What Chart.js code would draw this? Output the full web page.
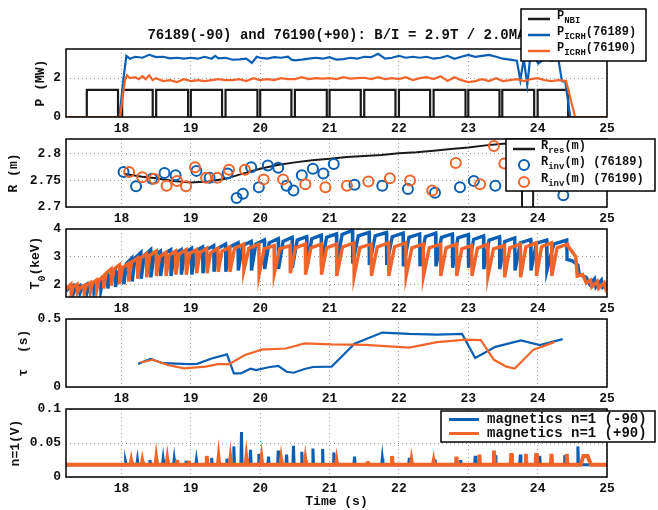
<!DOCTYPE html>
<html>
<head>
<meta charset="utf-8">
<script src="https://cdn.jsdelivr.net/npm/chart.js@4"></script>
<style>
  body { margin: 0; background: #fff; }
  #wrap { position: relative; width: 658px; height: 510px; overflow: hidden; }
  #wrap canvas { position: absolute; left: 0; }
</style>
</head>
<body>
<div id="wrap">
  <canvas id="c1" width="658" height="137" style="top:0px"></canvas>
  <canvas id="c2" width="658" height="102" style="top:125px"></canvas>
  <canvas id="c3" width="658" height="102" style="top:215px"></canvas>
  <canvas id="c4" width="658" height="102" style="top:305px"></canvas>
  <canvas id="c5" width="658" height="115" style="top:395px"></canvas>
</div>
<script>
// ---- data ----
const xTicks = [18, 19, 20, 21, 22, 23, 24, 25];

// panel 1: heating power (MW)
const nbiOn  = [17.50, 18.01, 18.50, 19.00, 19.50, 20.00, 20.50, 21.00, 21.50, 22.00, 22.50, 23.00, 23.49, 24.00];
const nbiOff = [17.95, 18.45, 18.96, 19.45, 19.96, 20.45, 20.96, 21.45, 21.95, 22.45, 22.96, 23.45, 23.95, 24.44];
const nbiLevel = 1.4;
const icrhT189 = [17.2, 17.97, 18.03, 18.07, 18.12, 18.2, 18.3, 18.4, 18.5, 18.6, 18.7, 18.8, 18.9, 19.0, 19.1, 19.2, 19.3, 19.35, 19.4, 19.5, 19.6, 19.7, 19.8, 19.88, 19.95, 20.0, 20.1, 20.2, 20.3, 20.4, 20.45, 20.5, 20.6, 20.7, 20.8, 20.9, 21.0, 21.1, 21.2, 21.3, 21.4, 21.5, 21.6, 21.7, 21.8, 21.9, 22.0, 22.1, 22.2, 22.3, 22.4, 22.5, 22.6, 22.7, 22.8, 22.9, 23.0, 23.1, 23.2, 23.3, 23.4, 23.5, 23.6, 23.7, 23.75, 23.8, 23.85, 23.89, 23.95, 24.01, 24.1, 24.2, 24.3, 24.35, 24.4, 24.47, 25.0];
const icrhP189 = [0, 0, 2.0, 3.15, 3.0, 3.1, 3.05, 3.2, 3.08, 3.1, 3.02, 3.05, 3.0, 3.05, 3.0, 3.1, 3.0, 3.15, 3.02, 3.05, 2.95, 2.97, 3.0, 2.78, 3.1, 3.05, 3.0, 3.08, 3.05, 3.1, 2.95, 2.92, 2.95, 3.0, 3.05, 3.0, 3.08, 2.95, 2.98, 3.05, 3.0, 3.1, 3.08, 3.25, 3.0, 3.05, 3.15, 3.05, 3.1, 3.05, 3.1, 3.0, 3.05, 3.15, 3.0, 3.1, 3.2, 3.1, 3.15, 3.2, 3.1, 3.0, 2.95, 2.9, 1.9, 3.0, 1.65, 2.95, 3.1, 2.75, 3.0, 2.9, 2.95, 1.85, 1.8, 0, 0];
const icrhT190 = [17.2, 17.98, 18.05, 18.08, 18.12, 18.2, 18.25, 18.3, 18.35, 18.4, 18.45, 18.5, 18.6, 18.7, 18.8, 18.9, 19.0, 19.1, 19.2, 19.3, 19.4, 19.5, 19.6, 19.7, 19.8, 19.9, 20.0, 20.1, 20.2, 20.3, 20.4, 20.5, 20.6, 20.7, 20.8, 20.9, 21.0, 21.1, 21.2, 21.3, 21.4, 21.5, 21.6, 21.7, 21.8, 21.9, 22.0, 22.1, 22.2, 22.3, 22.4, 22.5, 22.6, 22.7, 22.8, 22.9, 23.0, 23.1, 23.2, 23.3, 23.4, 23.5, 23.6, 23.7, 23.8, 23.9, 24.0, 24.1, 24.2, 24.3, 24.41, 24.54, 25.0];
const icrhP190 = [0, 0, 1.9, 2.15, 2.0, 2.05, 1.95, 2.1, 1.95, 2.15, 1.9, 2.0, 1.85, 1.9, 1.8, 1.95, 1.85, 1.9, 1.85, 1.9, 1.95, 1.9, 1.9, 1.95, 1.85, 2.0, 1.9, 1.95, 1.9, 2.0, 1.95, 1.95, 2.05, 1.95, 2.0, 1.98, 2.0, 1.95, 2.05, 1.98, 2.0, 2.02, 1.95, 2.05, 1.95, 2.0, 1.95, 2.05, 1.9, 2.0, 2.05, 1.95, 2.1, 1.85, 2.05, 1.9, 1.8, 1.85, 1.95, 1.85, 2.0, 1.85, 1.9, 1.95, 1.85, 1.95, 2.0, 1.9, 1.85, 1.9, 1.85, 0, 0];

// panel 2: resonance and inversion radius (m)
const rresT = [18.05, 18.3, 18.5, 18.75, 19.0, 19.25, 19.5, 19.7, 20.0, 20.25, 20.5, 20.75, 21.0, 21.25, 21.5, 21.75, 22.0, 22.25, 22.5, 22.75, 23.0, 23.25, 23.5, 23.77, 23.78, 23.93, 23.94, 24.2, 24.45];
const rresV = [2.762, 2.757, 2.754, 2.749, 2.746, 2.748, 2.753, 2.761, 2.772, 2.779, 2.784, 2.788, 2.791, 2.794, 2.796, 2.798, 2.801, 2.803, 2.806, 2.809, 2.812, 2.816, 2.819, 2.821, 2.6, 2.6, 2.822, 2.824, 2.825];
const rinvT189 = [18.03, 18.21, 18.44, 18.62, 18.78, 19.08, 19.27, 19.53, 19.66, 19.75, 19.87, 19.98, 20.11, 20.26, 20.38, 20.48, 20.6, 20.76, 20.91, 21.06, 21.36, 21.76, 22.13, 22.52, 22.88, 23.08, 23.39, 24.37];
const rinvV189 = [2.766, 2.739, 2.753, 2.764, 2.76, 2.768, 2.755, 2.763, 2.717, 2.725, 2.775, 2.737, 2.778, 2.774, 2.74, 2.731, 2.76, 2.772, 2.763, 2.781, 2.742, 2.74, 2.734, 2.727, 2.737, 2.749, 2.74, 2.722];
const rinvT190 = [18.11, 18.3, 18.47, 18.65, 18.8, 18.93, 19.06, 19.22, 19.38, 19.55, 19.78, 20.05, 20.33, 20.65, 20.94, 21.25, 21.56, 21.87, 22.16, 22.48, 22.82, 23.17, 23.37, 23.52];
const rinvV190 = [2.766, 2.756, 2.753, 2.74, 2.749, 2.739, 2.775, 2.755, 2.755, 2.77, 2.77, 2.752, 2.752, 2.743, 2.737, 2.74, 2.748, 2.754, 2.75, 2.731, 2.783, 2.743, 2.815, 2.782];

// panel 3: central temperature (keV), one entry per sawtooth crash
const t0Crash189 = [17.30, 17.40, 17.50, 17.60, 17.70, 17.80, 17.91, 18.03, 18.15, 18.28, 18.42, 18.56, 18.71, 18.86, 19.01, 19.17, 19.33, 19.50, 19.68, 19.87, 20.06, 20.26, 20.46, 20.67, 20.88, 21.10, 21.33, 21.57, 21.82, 22.06, 22.30, 22.53, 22.77, 23.00, 23.22, 23.45, 23.67, 23.90, 24.13, 24.42];
const t0Knee189  = [1.85, 1.85, 1.9, 1.95, 2.05, 2.15, 2.3, 2.45, 2.75, 2.95, 3.05, 3.05, 3.1, 3.1, 3.15, 3.2, 3.25, 3.3, 3.35, 3.4, 3.45, 3.5, 3.55, 3.6, 3.65, 3.7, 3.8, 3.75, 3.75, 3.72, 3.7, 3.72, 3.7, 3.68, 3.62, 3.6, 3.55, 3.5, 3.48, 3.45];
const t0Peak189  = [1.95, 1.95, 2.0, 2.05, 2.15, 2.3, 2.45, 2.6, 2.95, 3.15, 3.25, 3.2, 3.25, 3.25, 3.3, 3.35, 3.4, 3.45, 3.5, 3.55, 3.6, 3.65, 3.7, 3.72, 3.78, 3.82, 3.95, 3.88, 3.87, 3.85, 3.82, 3.85, 3.82, 3.8, 3.75, 3.72, 3.68, 3.62, 3.6, 3.6];
const t0Drop189  = [1.65, 1.7, 1.7, 1.75, 1.8, 1.85, 1.9, 2.0, 2.1, 2.2, 2.25, 2.3, 2.3, 2.35, 2.35, 2.4, 2.45, 2.45, 2.5, 2.5, 2.55, 2.55, 2.6, 2.6, 2.65, 2.7, 2.75, 2.7, 2.7, 2.65, 2.65, 2.65, 2.6, 2.6, 2.55, 2.55, 2.5, 2.5, 2.5, 2.9];
const t0Tail189  = [[24.5, 2.85], [24.58, 2.7], [24.6, 2.35], [24.7, 2.25], [24.75, 2.0], [24.82, 2.2], [24.84, 1.9], [24.92, 2.15], [24.94, 1.9], [25.0, 2.05]];
const t0Crash190 = [17.27, 17.36, 17.46, 17.55, 17.64, 17.74, 17.85, 17.97, 18.10, 18.23, 18.36, 18.50, 18.64, 18.78, 18.93, 19.08, 19.23, 19.39, 19.56, 19.76, 19.98, 20.20, 20.43, 20.65, 20.88, 21.10, 21.35, 21.60, 21.85, 22.10, 22.35, 22.60, 22.83, 23.05, 23.28, 23.52, 23.75, 23.98, 24.20, 24.43];
const t0Knee190  = [1.9, 1.9, 1.85, 1.95, 2.05, 2.15, 2.4, 2.55, 2.6, 2.8, 2.95, 3.05, 3.0, 3.05, 3.1, 3.1, 3.15, 3.15, 3.2, 3.3, 3.3, 3.28, 3.28, 3.32, 3.32, 3.32, 3.35, 3.33, 3.35, 3.36, 3.32, 3.32, 3.32, 3.28, 3.3, 3.28, 3.32, 3.35, 3.36, 3.32];
const t0Peak190  = [2.0, 2.0, 1.95, 2.05, 2.15, 2.3, 2.55, 2.7, 2.75, 2.95, 3.1, 3.2, 3.15, 3.2, 3.25, 3.25, 3.3, 3.3, 3.35, 3.45, 3.45, 3.4, 3.4, 3.45, 3.45, 3.45, 3.5, 3.45, 3.5, 3.5, 3.45, 3.45, 3.45, 3.4, 3.45, 3.4, 3.45, 3.5, 3.5, 3.45];
const t0Drop190  = [1.65, 1.7, 1.7, 1.75, 1.8, 1.85, 1.95, 2.0, 2.1, 2.2, 2.25, 2.3, 2.3, 2.35, 2.35, 2.4, 2.4, 2.45, 2.45, 2.5, 2.35, 2.4, 2.4, 2.35, 2.35, 2.3, 2.3, 2.3, 2.3, 2.3, 2.3, 2.3, 2.3, 2.3, 2.3, 2.25, 2.25, 2.3, 2.3, 3.4];
const t0Tail190  = [[24.55, 3.0], [24.57, 2.3], [24.65, 2.35], [24.7, 2.05], [24.76, 2.15], [24.78, 1.9], [24.86, 2.1], [24.88, 1.85], [24.96, 2.05], [24.98, 1.85], [25.0, 1.95]];

// panel 4: sawtooth period (s)
const tauT189 = [18.24, 18.42, 18.6, 18.97, 19.09, 19.3, 19.52, 19.62, 19.72, 19.86, 19.94, 20.12, 20.26, 20.38, 20.48, 20.64, 20.76, 21.03, 21.36, 21.76, 22.15, 22.55, 22.91, 23.1, 23.39, 23.76, 24.03, 24.36];
const tauV189 = [0.17, 0.207, 0.175, 0.168, 0.17, 0.21, 0.24, 0.1, 0.1, 0.135, 0.125, 0.145, 0.155, 0.112, 0.105, 0.132, 0.147, 0.15, 0.318, 0.4, 0.39, 0.385, 0.39, 0.213, 0.295, 0.342, 0.308, 0.352];
const tauT190 = [18.27, 18.45, 18.67, 18.9, 19.21, 19.39, 19.55, 19.78, 20.02, 20.37, 20.64, 21.03, 21.52, 22.15, 22.55, 22.97, 23.18, 23.37, 23.55, 23.67, 23.94, 24.24];
const tauV190 = [0.18, 0.2, 0.162, 0.137, 0.15, 0.168, 0.168, 0.235, 0.275, 0.283, 0.32, 0.313, 0.31, 0.29, 0.33, 0.348, 0.345, 0.2, 0.15, 0.135, 0.275, 0.33];

// panel 5: n=1 magnetics (V)
const magBase = 0.018;
const magSpikeT189 = [18.06, 18.23, 18.41, 18.6, 18.76, 18.93, 19.08, 19.3, 19.52, 19.62, 19.73, 19.86, 19.98, 20.12, 20.26, 20.38, 20.48, 20.6, 20.76, 20.9, 21.06, 21.36, 21.76, 22.15, 22.52, 22.89, 23.1, 23.39, 23.75, 24.03, 24.39, 24.58];
const magSpikeV189 = [0.022, 0.025, 0.025, 0.026, 0.026, 0.024, 0.025, 0.028, 0.027, 0.045, 0.066, 0.04, 0.034, 0.03, 0.039, 0.033, 0.046, 0.037, 0.042, 0.041, 0.036, 0.03, 0.027, 0.028, 0.026, 0.025, 0.031, 0.032, 0.033, 0.031, 0.032, 0.045];
const magSpikeT190 = [18.14, 18.3, 18.5, 18.66, 18.8, 18.97, 19.23, 19.4, 19.57, 19.8, 20.02, 20.3, 20.65, 21.1, 21.55, 21.9, 22.18, 22.5, 22.83, 23.16, 23.37, 23.62, 23.83, 23.98, 24.2, 24.42];
const magSpikeV190 = [0.023, 0.023, 0.026, 0.025, 0.025, 0.024, 0.031, 0.027, 0.026, 0.027, 0.026, 0.025, 0.025, 0.024, 0.023, 0.031, 0.024, 0.023, 0.03, 0.033, 0.039, 0.035, 0.034, 0.035, 0.034, 0.034];
const magBump190 = [[24.62, 0.018], [24.66, 0.031], [24.72, 0.031], [24.77, 0.018]];

// ---- styling ----
const BLUE = '#0a5fb4';
const ORANGE = '#f2652a';
const BLACK = '#1a1a1a';
const MONO = '"Liberation Mono", "DejaVu Sans Mono", monospace';
const GRID = '#9a9a9a';

function zip(ts, vs) { return ts.map((t, i) => ({x: t, y: vs[i]})); }

// each tooth: knee shortly after the previous crash, then peak, then the crash
function sawPoints(startY, crash, knee, peak, drop, tail) {
  const pts = [{x: 17.2, y: startY}];
  let prev = 17.2;
  crash.forEach((t, i) => {
    pts.push({x: prev + 0.35 * (t - prev), y: knee[i]});
    pts.push({x: t, y: peak[i]});
    pts.push({x: t + 0.004, y: drop[i]});
    prev = t;
  });
  tail.forEach(p => pts.push({x: p[0], y: p[1]}));
  return pts;
}

function spikePoints(base, ts, vs, extra) {
  let pts = [{x: 17.2, y: base}, {x: 25, y: base}];
  ts.forEach((t, i) => {
    pts.push({x: t - 0.009, y: base}, {x: t, y: vs[i]}, {x: t + 0.009, y: base});
  });
  (extra || []).forEach(p => pts.push({x: p[0], y: p[1]}));
  return pts.sort((a, b) => a.x - b.x);
}

const nbiPts = [{x: 17.2, y: 0}];
nbiOn.forEach((t, i) => {
  nbiPts.push({x: t, y: 0}, {x: t, y: nbiLevel}, {x: nbiOff[i], y: nbiLevel}, {x: nbiOff[i], y: 0});
});
nbiPts.push({x: 25, y: 0});

// draws a string made of [text, isSubscript] parts
function drawRich(ctx, parts, x, y, size, subSize, align) {
  let w = 0;
  const ws = parts.map(p => {
    ctx.font = 'bold ' + (p[1] ? subSize : size) + 'px ' + MONO;
    const m = ctx.measureText(p[0]).width;
    w += m;
    return m;
  });
  let cx = align === 'center' ? x - w / 2 : x;
  ctx.textBaseline = 'middle';
  ctx.textAlign = 'left';
  parts.forEach((p, i) => {
    ctx.font = 'bold ' + (p[1] ? subSize : size) + 'px ' + MONO;
    ctx.fillText(p[0], cx, p[1] ? y + Math.round(size * 0.45) : y);
    cx += ws[i];
  });
}

const decorPlugin = {
  id: 'decor',
  afterDatasetsDraw(chart) {
    const {ctx, chartArea: a} = chart;
    ctx.save();
    ctx.strokeStyle = '#000';
    ctx.lineWidth = 1.5;
    ctx.strokeRect(a.left, a.top, a.right - a.left, a.bottom - a.top);
    ctx.restore();
  },
  afterDraw(chart, args, o) {
    const {ctx, chartArea: a} = chart;
    const off = o.top || 0;
    ctx.save();
    ctx.fillStyle = '#111';
    if (o.title) {
      drawRich(ctx, [[o.title.text, 0]], o.title.x, o.title.y - off, 14, 10, 'center');
    }
    if (o.yTitle) {
      ctx.save();
      ctx.translate(o.yTitle.x, (a.top + a.bottom) / 2);
      ctx.rotate(-Math.PI / 2);
      drawRich(ctx, o.yTitle.parts, 0, 0, 13, 10, 'center');
      ctx.restore();
    }
    if (o.legend) {
      const L = o.legend;
      ctx.fillStyle = '#fff';
      ctx.fillRect(L.box[0], L.box[1] - off, L.box[2] - L.box[0], L.box[3] - L.box[1]);
      ctx.strokeStyle = '#000';
      ctx.lineWidth = 1.5;
      ctx.strokeRect(L.box[0], L.box[1] - off, L.box[2] - L.box[0], L.box[3] - L.box[1]);
      L.items.forEach((it, i) => {
        const y = L.rows[i] - off;
        ctx.strokeStyle = it.color;
        if (it.marker) {
          ctx.lineWidth = 2;
          ctx.beginPath();
          ctx.arc((L.sample[0] + L.sample[1]) / 2, y, 5, 0, Math.PI * 2);
          ctx.stroke();
        } else {
          ctx.lineWidth = it.width || 2.5;
          ctx.beginPath();
          ctx.moveTo(L.sample[0], y);
          ctx.lineTo(L.sample[1], y);
          ctx.stroke();
        }
        ctx.fillStyle = '#111';
        const hasSub = it.parts.some(p => p[1]);
        drawRich(ctx, it.parts, L.textX, hasSub ? y - 3 : y, L.size, L.subSize, 'left');
      });
    }
    ctx.restore();
  }
};

function makePanel(id, top, plotTop, xAxisH, y, datasets, decor, xTitle) {
  const tickFont = {family: MONO, size: 13, weight: 'bold'};
  decor.top = top;
  return new Chart(document.getElementById(id), {
    type: 'line',
    data: {datasets: datasets},
    options: {
      responsive: false,
      animation: false,
      events: [],
      layout: {padding: {left: 0, right: 51, top: plotTop - top, bottom: 0}},
      elements: {line: {tension: 0}, point: {radius: 0}},
      scales: {
        x: {
          type: 'linear', min: 17.2, max: 25,
          afterBuildTicks: ax => { ax.ticks = xTicks.map(v => ({value: v})); },
          afterFit: ax => { ax.height = xAxisH; },
          grid: {color: GRID, lineWidth: 1, drawTicks: false},
          border: {display: false, dash: [1, 3]},
          ticks: {font: tickFont, color: '#111', padding: 4, maxRotation: 0, autoSkip: false},
          title: xTitle ? {display: true, text: xTitle, font: {family: MONO, size: 13, weight: 'bold'}, color: '#111', padding: {top: 0, bottom: 0}} : {display: false}
        },
        y: {
          type: 'linear', min: y.min, max: y.max,
          afterBuildTicks: ax => { ax.ticks = y.ticks.map(v => ({value: v})); },
          afterFit: ax => { ax.width = 66; },
          grid: {color: GRID, lineWidth: 1, drawTicks: false},
          border: {display: false, dash: [1, 3]},
          ticks: {font: tickFont, color: '#111', padding: 5, callback: v => String(v)}
        }
      },
      plugins: {
        legend: {display: false},
        tooltip: {enabled: false},
        decor: decor
      }
    },
    plugins: [decorPlugin]
  });
}

function lineSet(pts, color, width, order) {
  return {data: pts, borderColor: color, borderWidth: width, pointRadius: 0, fill: false, order: order};
}

// panel 1
makePanel('c1', 0, 49, 20, {min: 0, max: 3.5, ticks: [0, 2]}, [
  lineSet(nbiPts, BLACK, 2.2, 3),
  lineSet(zip(icrhT189, icrhP189), BLUE, 2.2, 2),
  lineSet(zip(icrhT190, icrhP190), ORANGE, 2.2, 1)
], {
  title: {text: '76189(-90) and 76190(+90): B/I = 2.9T / 2.0MA', x: 336.5, y: 35},
  yTitle: {x: 41, parts: [['P (MW)', 0]]},
  legend: {
    box: [521, 9, 646, 61], rows: [19, 35, 51], sample: [528, 550], textX: 557, size: 12, subSize: 9,
    items: [
      {color: BLACK, parts: [['P', 0], ['NBI', 1]]},
      {color: BLUE, parts: [['P', 0], ['ICRH', 1], ['(76189)', 0]]},
      {color: ORANGE, parts: [['P', 0], ['ICRH', 1], ['(76190)', 0]]}
    ]
  }
});

// panel 2
function circleSet(pts, color, order) {
  return {data: pts, showLine: false, borderColor: color, backgroundColor: 'rgba(0,0,0,0)',
    pointRadius: 5, pointBorderWidth: 2, pointBorderColor: color, pointBackgroundColor: 'rgba(0,0,0,0)', order: order};
}
makePanel('c2', 125, 139, 20, {min: 2.7, max: 2.828, ticks: [2.7, 2.75, 2.8]}, [
  lineSet(zip(rresT, rresV), BLACK, 2, 3),
  circleSet(zip(rinvT189, rinvV189), BLUE, 2),
  circleSet(zip(rinvT190, rinvV190), ORANGE, 1)
], {
  yTitle: {x: 14, parts: [['R (m)', 0]]},
  legend: {
    box: [506, 139, 655, 191], rows: [149, 165, 182], sample: [513, 535], textX: 541, size: 12, subSize: 9,
    items: [
      {color: BLACK, parts: [['R', 0], ['res', 1], ['(m)', 0]]},
      {color: BLUE, marker: true, parts: [['R', 0], ['inv', 1], ['(m) (76189)', 0]]},
      {color: ORANGE, marker: true, parts: [['R', 0], ['inv', 1], ['(m) (76190)', 0]]}
    ]
  }
});

// panel 3
makePanel('c3', 215, 229, 20, {min: 1.54, max: 4, ticks: [2, 3, 4]}, [
  lineSet(sawPoints(1.75, t0Crash189, t0Knee189, t0Peak189, t0Drop189, t0Tail189), BLUE, 3.4, 2),
  lineSet(sawPoints(1.8, t0Crash190, t0Knee190, t0Peak190, t0Drop190, t0Tail190), ORANGE, 3.4, 1)
], {
  yTitle: {x: 36, parts: [['T', 0], ['0', 1], ['(keV)', 0]]}
});

// panel 4
makePanel('c4', 305, 319, 20, {min: 0, max: 0.5, ticks: [0, 0.5]}, [
  lineSet(zip(tauT189, tauV189), BLUE, 2.2, 2),
  lineSet(zip(tauT190, tauV190), ORANGE, 2.2, 1)
], {
  yTitle: {x: 24, parts: [['\u03c4  (s)', 0]]}
});

// panel 5
makePanel('c5', 395, 409, 33, {min: 0, max: 0.1, ticks: [0, 0.05, 0.1]}, [
  lineSet(spikePoints(magBase, magSpikeT189, magSpikeV189), BLUE, 3, 2),
  lineSet(spikePoints(magBase, magSpikeT190, magSpikeV190, magBump190), ORANGE, 4, 1)
], {
  yTitle: {x: 16, parts: [['n=1(V)', 0]]},
  legend: {
    box: [441, 411, 655, 442], rows: [419.5, 433.5], sample: [449, 479], textX: 487, size: 14, subSize: 10,
    items: [
      {color: BLUE, width: 3, parts: [['magnetics n=1 (-90)', 0]]},
      {color: ORANGE, width: 3, parts: [['magnetics n=1 (+90)', 0]]}
    ]
  }
}, 'Time (s)');
</script>
</body>
</html>
